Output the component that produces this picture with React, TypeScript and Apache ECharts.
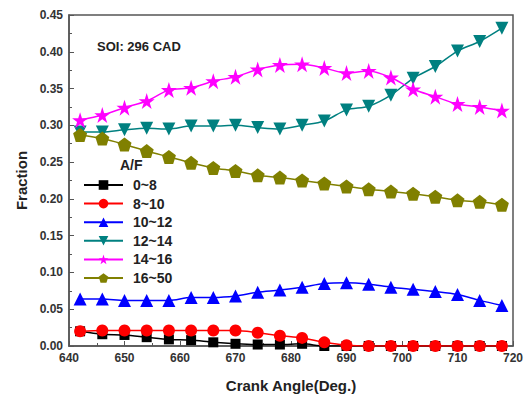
import React, { useEffect, useRef } from "react";
import * as echarts from "echarts";

const crankAngles = [642, 646, 650, 654, 658, 662, 666, 670, 674, 678, 682, 686, 690, 694, 698, 702, 706, 710, 714, 718];
const af0to8 = [0.020, 0.016, 0.015, 0.012, 0.009, 0.008, 0.005, 0.003, 0.002, 0.002, 0.003, 0.0, 0.0, 0.0, 0.0, 0.0, 0.0, 0.0, 0.0, 0.0];
const af8to10 = [0.020, 0.021, 0.021, 0.021, 0.021, 0.021, 0.021, 0.021, 0.018, 0.014, 0.011, 0.005, 0.001, 0.0, 0.0, 0.0, 0.0, 0.0, 0.0, 0.0];
const af10to12 = [0.064, 0.064, 0.062, 0.062, 0.062, 0.066, 0.066, 0.068, 0.073, 0.076, 0.080, 0.085, 0.086, 0.084, 0.080, 0.077, 0.074, 0.070, 0.062, 0.055];
const af12to14 = [0.291, 0.291, 0.294, 0.296, 0.295, 0.299, 0.299, 0.300, 0.297, 0.295, 0.300, 0.306, 0.321, 0.326, 0.341, 0.364, 0.380, 0.401, 0.414, 0.432];
const af14to16 = [0.307, 0.314, 0.324, 0.333, 0.348, 0.351, 0.360, 0.366, 0.376, 0.382, 0.383, 0.378, 0.371, 0.374, 0.365, 0.349, 0.339, 0.329, 0.325, 0.320];
const af16to50 = [0.287, 0.282, 0.274, 0.265, 0.257, 0.249, 0.242, 0.238, 0.232, 0.229, 0.225, 0.221, 0.217, 0.213, 0.210, 0.207, 0.203, 0.198, 0.196, 0.192];

const seriesNames = ["0~8", "8~10", "10~12", "12~14", "14~16", "16~50"];
const seriesColors = ["#000000", "#ff0000", "#0000ff", "#008080", "#ff00ff", "#808000"];
const seriesSymbols = ["rect", "circle", "triangle", "path://M0,0 L10,0 L5,9 Z", "path://M50,0 L61.8,35.3 L100,35.3 L69.1,57.1 L80.9,92.7 L50,70.5 L19.1,92.7 L30.9,57.1 L0,35.3 L38.2,35.3 Z", "path://M50,0 L100,36.3 L80.9,95.1 L19.1,95.1 L0,36.3 Z"];
const seriesSizes = [10, 12, 13, 13, 16, 14];
const seriesValues = [af0to8, af8to10, af10to12, af12to14, af14to16, af16to50];

const FONT = "Arial, 'Liberation Sans', Helvetica, sans-serif";

export default function App() {
  const ref = useRef<HTMLDivElement>(null);
  useEffect(() => {
    if (!ref.current) return;
    const chart = echarts.init(ref.current, undefined, { renderer: "svg" });
    const series = seriesNames.map((name, i) => ({
      name,
      type: "line",
      smooth: 0.3,
      data: crankAngles.map((x, j) => [x, seriesValues[i][j]]),
      symbol: seriesSymbols[i],
      symbolSize: seriesSizes[i],
      showAllSymbol: true,
      lineStyle: { color: seriesColors[i], width: 1.5 },
      itemStyle: { color: seriesColors[i], borderWidth: 0 },
      z: i === 1 ? 3 : 2,
    }));
    chart.setOption({
      animation: false,
      textStyle: { fontFamily: FONT },
      grid: { left: 69, right: 14, top: 15, bottom: 49, show: true, borderColor: "#555", borderWidth: 1.5, backgroundColor: "transparent" },
      legend: {
        orient: "vertical",
        left: 83,
        top: 178,
        padding: 0,
        itemWidth: 39,
        itemHeight: 12,
        itemGap: 4.6,
        data: seriesNames,
        textStyle: { fontFamily: FONT, fontSize: 14, lineHeight: 14, fontWeight: "bold", color: "#222", padding: [0, 0, 0, 5] },
      },
      graphic: [
        { type: "text", left: 97, top: 40, style: { text: "SOI: 296 CAD", font: `bold 13px ${FONT}`, fill: "#222" } },
        { type: "text", left: 120, top: 158, style: { text: "A/F", font: `bold 14px ${FONT}`, fill: "#222" } },
      ],
      xAxis: {
        type: "value",
        min: 640,
        max: 720,
        interval: 10,
        name: "Crank Angle(Deg.)",
        nameLocation: "middle",
        nameGap: 32,
        nameTextStyle: { fontFamily: FONT, fontSize: 15, fontWeight: "bold", color: "#222" },
        axisLine: { show: true, lineStyle: { color: "#555", width: 1.5 } },
        axisTick: { show: true, inside: true, length: 5, lineStyle: { color: "#555" } },
        minorTick: { show: true, splitNumber: 2, length: 3, lineStyle: { color: "#555" } },
        axisLabel: { fontFamily: FONT, fontSize: 12, fontWeight: "bold", color: "#333", margin: 6 },
        splitLine: { show: false },
      },
      yAxis: {
        type: "value",
        min: 0,
        max: 0.45,
        interval: 0.05,
        name: "Fraction",
        nameLocation: "middle",
        nameGap: 40,
        nameTextStyle: { fontFamily: FONT, fontSize: 15, fontWeight: "bold", color: "#222" },
        axisLine: { show: true, lineStyle: { color: "#555", width: 1.5 } },
        axisTick: { show: true, inside: true, length: 5, lineStyle: { color: "#555" } },
        minorTick: { show: true, splitNumber: 2, length: 3, lineStyle: { color: "#555" } },
        axisLabel: { fontFamily: FONT, fontSize: 12, fontWeight: "bold", color: "#333", margin: 6, formatter: (v: number) => v.toFixed(2) },
        splitLine: { show: false },
      },
      series,
    });
    return () => chart.dispose();
  }, []);
  return <div ref={ref} style={{ width: 527, height: 398, position: "absolute", left: 0, top: 0, background: "#fff" }} />;
}
